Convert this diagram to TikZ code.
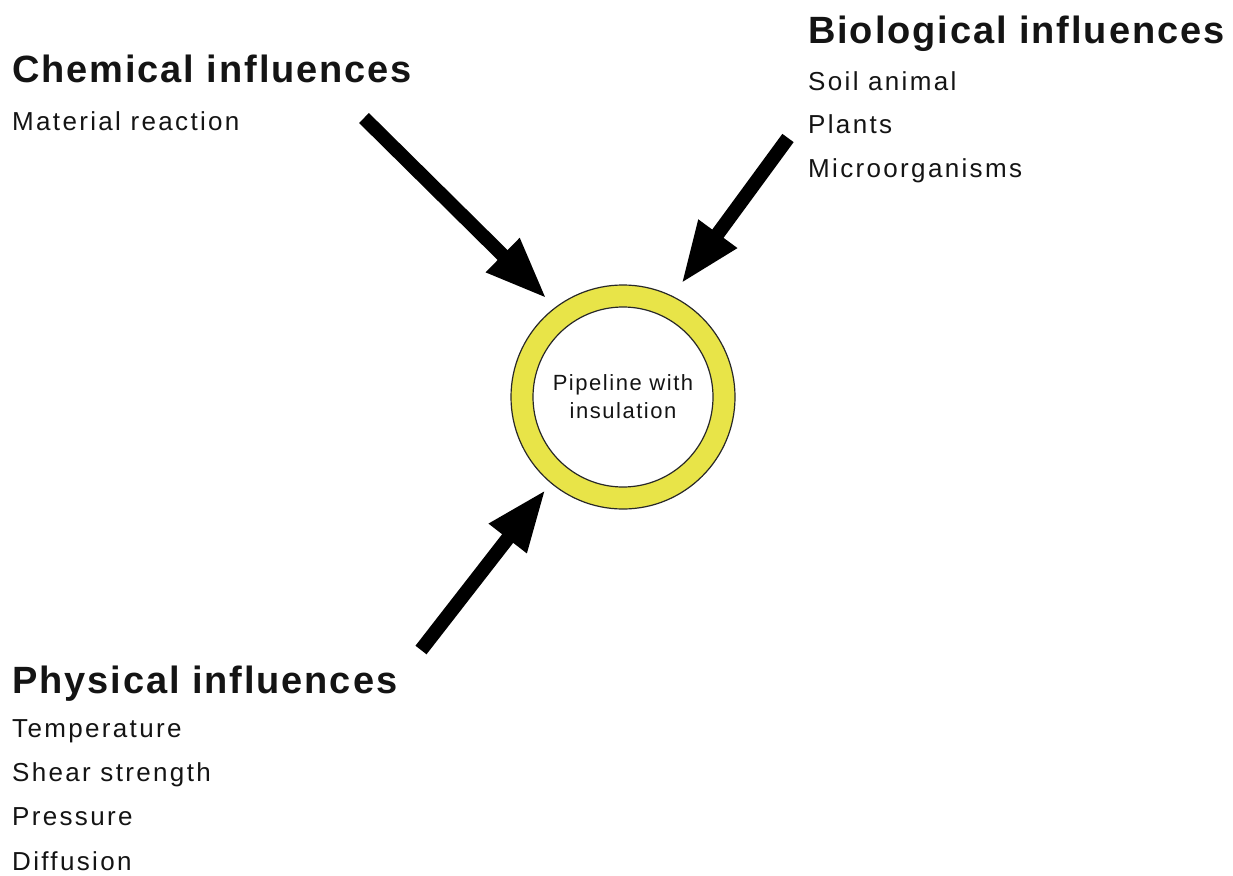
\documentclass[tikz,border=0pt]{standalone}
\usepackage{fontspec}
\setmainfont{Liberation Sans}
\usetikzlibrary{arrows.meta}
\definecolor{ringyellow}{RGB}{232,228,72}
\definecolor{ringline}{RGB}{40,40,40}
\definecolor{txt}{RGB}{20,20,20}
\tikzset{
  heading/.style={anchor=base west, inner sep=0pt, text=txt,
    font=\fontsize{38}{44}\selectfont\bfseries\addfontfeature{LetterSpace=5}},
  item/.style={anchor=base west, inner sep=0pt, text=txt,
    font=\fontsize{26}{30}\selectfont\addfontfeature{LetterSpace=9}},
  infl/.style={line width=14pt, -{Triangle[length=62pt,width=44pt]}},
}
\begin{document}
\begin{tikzpicture}[x=1pt,y=-1pt]
\useasboundingbox[fill=white] (0,0) rectangle (1233,875);

% pipeline ring
\node[circle, draw=ringline, line width=1.2pt, fill=ringyellow, minimum size=224pt, inner sep=0pt] (pipe) at (623,397) {};
\node[circle, draw=ringline, line width=1.2pt, fill=white, minimum size=180pt, inner sep=0pt] (core) at (623,397) {};
\node[align=center, inner sep=0pt, text=txt, anchor=base,
  font=\fontsize{22}{28}\selectfont\addfontfeature{LetterSpace=7}] (label) at (623,418) {Pipeline with\\insulation};

% chemical
\node[heading] (chemH) at (12,82) {Chemical influences};
\node[item] (chem1) at (12,130) {Material reaction};

% biological
\node[heading] (bioH) at (808,44) {Biological influences};
\node[item] (bio1) at (808,90) {Soil animal};
\node[item] (bio2) at (808,133) {Plants};
\node[item] (bio3) at (808,177) {Microorganisms};

% physical
\node[heading] (phyH) at (12,693) {Physical influences};
\node[item] (phy1) at (12,737) {Temperature};
\node[item] (phy2) at (12,781) {Shear strength};
\node[item] (phy3) at (12,825) {Pressure};
\node[item] (phy4) at (12,870) {Diffusion};

% arrows
\coordinate (chemTail) at (364,118);
\coordinate (bioTail) at (788,138);
\coordinate (phyTail) at (421,650);
\draw[infl, shorten >=12pt] (chemTail) -- (pipe.127.8);
\draw[infl, shorten >=15pt] (bioTail) -- (pipe.64.4);
\draw[infl, shorten >=8pt] (phyTail) -- (pipe.230.7);
\end{tikzpicture}
\end{document}
